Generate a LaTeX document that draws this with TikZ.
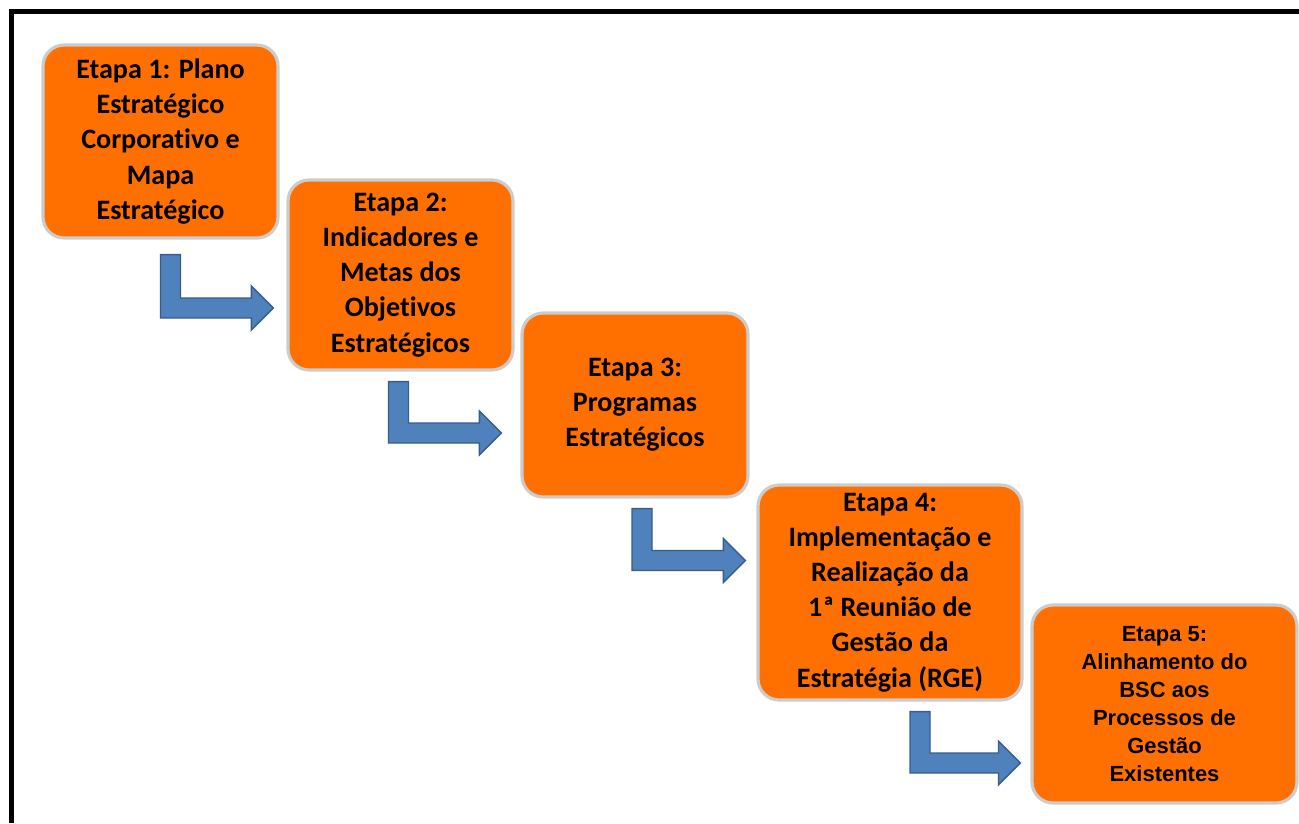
\documentclass[tikz,border=0pt]{standalone}
\usepackage{fontspec}
\setmainfont[Ligatures=NoCommon]{Carlito}
\newfontfamily\arialfont{Liberation Sans}
\usetikzlibrary{calc,positioning}
\definecolor{stepor}{RGB}{255,112,0}
\definecolor{steplight}{RGB}{255,170,90}
\definecolor{stepdark}{RGB}{235,95,0}
\definecolor{arrowblue}{RGB}{79,129,189}
\definecolor{arrowedge}{RGB}{56,93,138}
\pgfdeclareverticalshading{stepshade}{100bp}{color(0bp)=(stepdark); color(12bp)=(stepor);
  color(84bp)=(stepor); color(96bp)=(steplight); color(100bp)=(steplight)}

% bent block arrow: #1 = top left of the shaft, #2 = tip
\newcommand{\bentarrow}[2]{%
  \path #1 coordinate (s) #2 coordinate (t);
  \filldraw[flow] (s) -- ($(s|-t)+(0,10)$) -- ($(t)+(-22,10)$) -- ($(t)+(-22,22)$)
    -- (t) -- ($(t)+(-22,-22)$) -- ($(t)+(-22,-10)$) -- ($(s|-t)+(20,-10)$)
    -- ($(s)+(20,0)$) -- cycle;}

\begin{document}
\begin{tikzpicture}[x=0.02cm,y=-0.02cm,
        stepbox/.style={draw=gray!40,line width=1.8pt,rounded corners=0.42cm,
        shading=stepshade,align=center,inner sep=0pt,
        font=\bfseries\fontsize{16}{20}\selectfont},
        flow/.style={fill=arrowblue,draw=arrowedge,line width=0.8pt}]

        \useasboundingbox (0,0) rectangle (1299,823);
        % Frame
        \draw[line width=0.1cm] (11.5,823) |- (1299,11.5);

        % Steps
        \node[stepbox,minimum width=4.7cm,minimum height=3.86cm] (e1) at (160.5,141.5)
            {Etapa 1: Plano\\Estratégico\\Corporativo e\\Mapa\\Estratégico};
        \node[stepbox,minimum width=4.5cm,minimum height=3.8cm] (e2) at (400.5,275)
            {Etapa 2:\\Indicadores e\\Metas dos\\Objetivos\\Estratégicos};
        \node[stepbox,minimum width=4.52cm,minimum height=3.68cm] (e3) at (635,405)
            {Etapa 3:\\Programas\\Estratégicos};
        \node[stepbox,minimum width=5.28cm,minimum height=4.3cm] (e4) at (890,592.5)
            {Etapa 4:\\Implementação e\\Realização da\\1ª Reunião de\\Gestão da\\Estratégia (RGE)};
        \node[stepbox,minimum width=5.3cm,minimum height=3.96cm,
            font=\arialfont\bfseries\fontsize{12.5}{16}\selectfont] (e5) at (1164.5,704)
            {Etapa 5:\\Alinhamento do\\BSC aos\\Processos de\\Gestão\\Existentes};

        % Arrows
        \bentarrow{($(e1.south)+(0,15)$)}{($(e2.west)+(-13,33)$)}
        \bentarrow{($(e2.south)+(-12,10)$)}{($(e3.west)+(-19,28)$)}
        \bentarrow{($(e3.south)+(-3,10)$)}{($(e4.west)+(-11,-32)$)}
        \bentarrow{($(e4.south)+(20,10)$)}{($(e5.west)+(-10,59)$)}

    \end{tikzpicture}
\end{document}
